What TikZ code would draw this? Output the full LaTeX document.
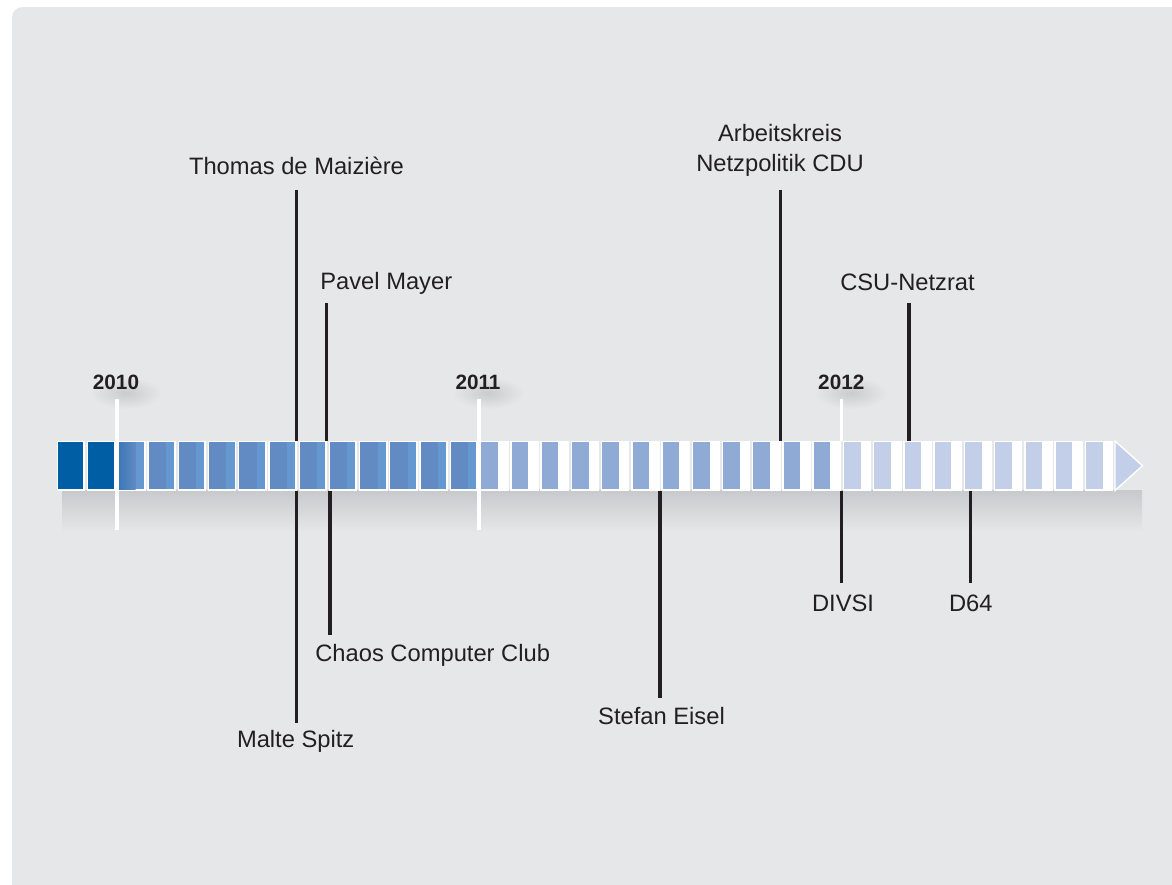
\documentclass[tikz,border=0pt]{standalone}
\usepackage{fontspec}
\setmainfont{Liberation Sans}
\usetikzlibrary{positioning}
\definecolor{panel}{RGB}{230,231,233}
\definecolor{barshadow}{RGB}{200,201,204}
\definecolor{monthdark}{RGB}{0,94,164}
\definecolor{monthmid}{RGB}{98,138,195}
\definecolor{monthmidlight}{RGB}{101,151,208}
\definecolor{monthlight}{RGB}{143,170,212}
\definecolor{monthpale}{RGB}{195,207,232}
\definecolor{ink}{RGB}{35,31,32}
\begin{document}
\begin{tikzpicture}[scale=0.2,
  evtext/.style={inner sep=0pt, text=ink, font=\fontsize{13.5}{16.8}\selectfont},
  yeartext/.style={inner sep=0pt, text=ink, font=\bfseries\fontsize{11.8}{14}\selectfont},
  evline/.style={draw=ink, line width=2pt},
  yearline/.style={draw=white, line width=2pt}]
\useasboundingbox (0,0) rectangle (117.2,-88.4);
\fill[white] (0,0) rectangle (117.2,-88.4);
\fill[panel, rounded corners=6pt] (1.2,-0.7) rectangle (120,-92);
\shade[top color=barshadow, bottom color=panel] (6.2,-49.0) rectangle (114.2,-53.2);
\shade[inner color=panel!88!black, outer color=panel] (12.6,-39.3) ellipse (3.6 and 1.6);
\shade[inner color=panel!88!black, outer color=panel] (48.8,-39.3) ellipse (3.6 and 1.6);
\shade[inner color=panel!88!black, outer color=panel] (85.1,-39.3) ellipse (3.6 and 1.6);
\foreach \i in {0,...,34} \fill[white] ({5.67+3.023*\i},-44.05) rectangle ++(2.86,-5.02);
\foreach \i in {0,1} \fill[monthdark] ({5.79+3.023*\i},-44.2) rectangle ++(2.55,-4.72);
\foreach \i in {2,...,13} {
  \fill[monthmidlight] ({5.79+3.023*\i},-44.2) rectangle ++(2.55,-4.72);
  \fill[monthmid] ({5.79+3.023*\i},-44.2) rectangle ++(1.73,-4.72);
}
\shade[left color=monthdark!40!monthmid, right color=monthmid] (11.84,-44.2) rectangle ++(1.73,-4.72);
\foreach \i in {14,...,25} \fill[monthlight] ({5.82+3.023*\i},-44.2) rectangle ++(1.65,-4.72);
\foreach \i in {26,...,34} \fill[monthpale] ({5.82+3.023*\i},-44.2) rectangle ++(1.65,-4.72);
\filldraw[fill=monthpale, draw=white, line width=0.8pt] (111.5,-44.1) -- (114.25,-46.57) -- (111.5,-49.05) -- cycle;
\coordinate (maiziere bar) at (29.67,-44.05);
\coordinate (pavel bar) at (32.67,-44.05);
\coordinate (cdu bar) at (78.07,-44.05);
\coordinate (csu bar) at (90.9,-44.05);
\coordinate (spitz bar) at (29.67,-49.07);
\coordinate (ccc bar) at (33.0,-49.07);
\coordinate (eisel bar) at (66.0,-49.07);
\coordinate (divsi bar) at (84.17,-49.07);
\coordinate (d64 bar) at (97.07,-49.07);
\coordinate (y2010 end) at (11.7,-53.0);
\coordinate (y2011 end) at (47.9,-53.0);
\coordinate (y2012 end) at (84.13,-44.05);
\node[evtext, anchor=base] (maiziere) at (29.65,-17.4) {Thomas de Maizière};
\node[evtext, anchor=base west] (pavel) at (32.0,-28.9) {Pavel Mayer};
\node[evtext, anchor=south, align=center] (cdu) at (78.0,-17.63) {Arbeitskreis\\Netzpolitik CDU};
\node[evtext, anchor=base] (csu) at (90.75,-29.07) {CSU-Netzrat};
\node[evtext, anchor=base west] (ccc) at (31.5,-66.1) {Chaos Computer Club};
\node[evtext, anchor=base] (spitz) at (29.57,-74.77) {Malte Spitz};
\node[evtext, anchor=base] (eisel) at (66.15,-72.43) {Stefan Eisel};
\node[evtext, anchor=base] (divsi) at (84.3,-61.17) {DIVSI};
\node[evtext, anchor=base] (d64) at (97.08,-61.17) {D64};
\node[yeartext, anchor=base] (y2010) at (11.6,-38.93) {2010};
\node[yeartext, anchor=base] (y2011) at (47.8,-38.93) {2011};
\node[yeartext, anchor=base] (y2012) at (84.13,-38.93) {2012};
\draw[evline, shorten <=9.1pt] (maiziere.base -| maiziere bar) -- (maiziere bar);
\draw[evline, shorten <=8pt] (pavel.base -| pavel bar) -- (pavel bar);
\draw[evline, shorten <=7.8pt] (cdu.south -| cdu bar) -- (cdu bar);
\draw[evline, shorten <=6.8pt] (csu.base -| csu bar) -- (csu bar);
\draw[evline, shorten >=4.2pt] (spitz bar) -- (spitz.north -| spitz bar);
\draw[evline, shorten >=4.9pt] (ccc bar) -- (ccc.north -| ccc bar);
\draw[evline, shorten >=5.1pt] (eisel bar) -- (eisel.north -| eisel bar);
\draw[evline, shorten >=6.6pt] (divsi bar) -- (divsi.north -| divsi bar);
\draw[evline, shorten >=6.6pt] (d64 bar) -- (d64.north -| d64 bar);
\draw[yearline, shorten <=5.5pt] (y2010.base -| y2010 end) -- (y2010 end);
\draw[yearline, shorten <=5.5pt] (y2011.base -| y2011 end) -- (y2011 end);
\draw[yearline, shorten <=5.5pt] (y2012.base -| y2012 end) -- (y2012 end);
\end{tikzpicture}
\end{document}
